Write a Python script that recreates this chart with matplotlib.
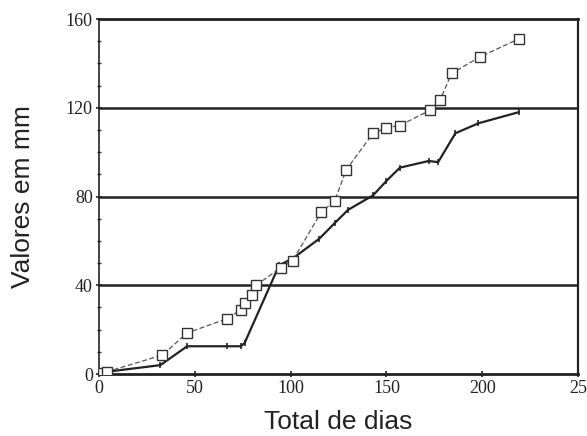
import matplotlib
matplotlib.use("Agg")
import matplotlib.pyplot as plt
from matplotlib.ticker import MultipleLocator

# Series with open squares (dashed line)
days_sq = [0, 2, 4, 33, 46, 67, 74, 76, 80, 82, 95, 101, 116, 123, 129, 143, 150, 157, 173, 178, 184, 199, 219]
vals_sq = [0, 0.5, 1, 8.5, 18.5, 25, 29, 32, 35.5, 40, 48, 51, 73, 78, 92, 108.5, 111, 112, 119, 123.5, 135.5, 143, 151]

# Series with small tick markers (solid line)
days_ln = [0, 2, 4, 32, 46, 67, 74, 76, 94, 101, 115, 123, 130, 143, 150, 157, 172, 177, 186, 198, 219]
vals_ln = [0, 0.5, 1, 4, 12.5, 12.5, 12.5, 14, 49, 52, 61, 68, 74, 80.5, 87, 93, 96, 95.5, 108.5, 113, 118]

x_ticks = [0, 50, 100, 150, 200, 250]
x_tick_labels = ["0", "50", "100", "150", "200", "25"]
y_ticks = [0, 40, 80, 120, 160]

fig = plt.figure(figsize=(5.87, 4.36), dpi=100)
ax = fig.add_axes([0.1687, 0.1422, 0.8160, 0.8142])

for y in y_ticks[1:4]:
    ax.axhline(y, color="#222222", lw=1.8, zorder=1)

ax.plot(days_ln, vals_ln, color="#222222", lw=1.6, marker="|", ms=5, mew=1.2, zorder=3)
ax.plot(days_sq, vals_sq, color="#555555", lw=0.9, ls=(0, (4, 2)), marker="s", ms=7,
        mfc="white", mec="#333333", mew=1.0, zorder=4)

ax.set_xlim(0, 250)
ax.set_ylim(0, 160)
ax.set_xticks(x_ticks)
ax.set_yticks(y_ticks)
ax.yaxis.set_minor_locator(MultipleLocator(10))
ax.set_xticklabels(x_tick_labels, fontfamily="Liberation Serif", fontsize=13)
ax.set_yticklabels([str(v) for v in y_ticks], fontfamily="Liberation Serif", fontsize=13)
ax.tick_params(axis="both", which="major", direction="inout", length=5, width=1.2, colors="#222222", pad=2)
ax.tick_params(axis="y", which="minor", direction="inout", length=3, width=1.0, colors="#333333")

for side, lw in [("left", 1.2), ("bottom", 2.0), ("top", 2.0), ("right", 1.6)]:
    ax.spines[side].set_linewidth(lw)
    ax.spines[side].set_color("#222222")

ax.set_xlabel("Total de dias", fontfamily="Liberation Sans", fontsize=19, color="#222222", labelpad=9)
ax.set_ylabel("Valores em mm", fontfamily="Liberation Sans", fontsize=19, color="#222222", labelpad=22)

fig.savefig("out.png", dpi=100)
